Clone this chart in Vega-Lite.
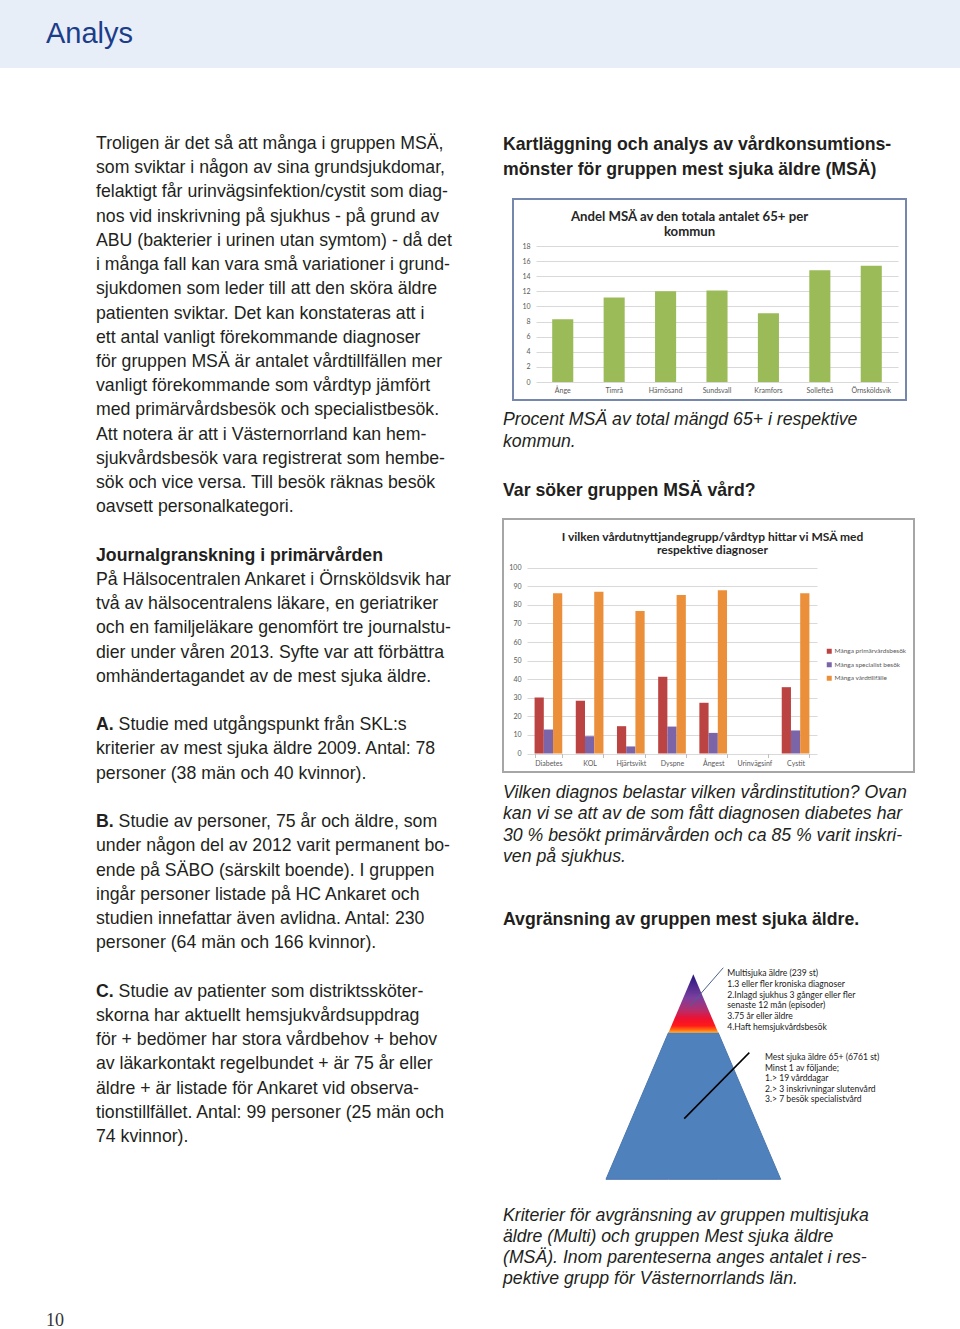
{
  "$schema": "https://vega.github.io/schema/vega-lite/v6.json",
  "background": "white",
  "padding": 0,
  "autosize": {"type": "pad"},
  "config": {"view": {"stroke": null}},
  "spacing": 0,
  "resolve": {"scale": {"color": "independent"}, "legend": {"color": "independent"}},
  "vconcat": [
    {
      "spacing": 0,
      "hconcat": [
        {"width": 46, "height": 68, "view": {"fill": "#e8eef7", "stroke": null}, "data": {"values": [{}]}, "mark": {"type": "text"}, "encoding": {"text": {"value": ""}}},
        {"width": 914, "height": 68, "view": {"fill": "#e8eef7", "stroke": null},
         "data": {"values": [{"t": "Analys"}]},
         "mark": {"type": "text", "align": "left", "baseline": "middle", "font": "Liberation Sans", "fontSize": 29, "color": "#1b3d8a"},
         "encoding": {"x": {"value": 0}, "text": {"field": "t"}}}
      ]
    },
    {
      "spacing": 0,
      "resolve": {"scale": {"color": "independent"}, "legend": {"color": "independent"}},
      "hconcat": [
        {"width": 46, "height": 10, "data": {"values": [{}]}, "mark": {"type": "text"}, "encoding": {"text": {"value": ""}}},
        {"width": 50, "height": 1261,
         "data": {"values": [{"line": 48.6, "t": "10"}]},
         "mark": {"type": "text", "align": "left", "baseline": "middle", "font": "Liberation Serif", "fontSize": 18, "color": "#333333"},
         "encoding": {"x": {"value": 0}, "y": {"field": "line", "type": "quantitative", "scale": {"domain": [-3.0966, 48.968], "reverse": true, "nice": false, "zero": false}, "axis": null}, "text": {"field": "t"}}},
        {"width": 406, "height": 1261,
         "data": {"values": [
           {"line": 0, "s": "r", "t": "Troligen är det så att många i gruppen MSÄ,"},
           {"line": 1, "s": "r", "t": "som sviktar i någon av sina grundsjukdomar,"},
           {"line": 2, "s": "r", "t": "felaktigt får urinvägsinfektion/cystit som diag-"},
           {"line": 3, "s": "r", "t": "nos vid inskrivning på sjukhus - på grund av"},
           {"line": 4, "s": "r", "t": "ABU (bakterier i urinen utan symtom) - då det"},
           {"line": 5, "s": "r", "t": "i många fall kan vara små variationer i grund-"},
           {"line": 6, "s": "r", "t": "sjukdomen som leder till att den sköra äldre"},
           {"line": 7, "s": "r", "t": "patienten sviktar. Det kan konstateras att i"},
           {"line": 8, "s": "r", "t": "ett antal vanligt förekommande diagnoser"},
           {"line": 9, "s": "r", "t": "för gruppen MSÄ är antalet vårdtillfällen mer"},
           {"line": 10, "s": "r", "t": "vanligt förekommande som vårdtyp jämfört"},
           {"line": 11, "s": "r", "t": "med primärvårdsbesök och specialistbesök."},
           {"line": 12, "s": "r", "t": "Att notera är att i Västernorrland kan hem-"},
           {"line": 13, "s": "r", "t": "sjukvårdsbesök vara registrerat som hembe-"},
           {"line": 14, "s": "r", "t": "sök och vice versa. Till besök räknas besök"},
           {"line": 15, "s": "r", "t": "oavsett personalkategori."},
           {"line": 17, "s": "b", "t": "Journalgranskning i primärvården"},
           {"line": 18, "s": "r", "t": "På Hälsocentralen Ankaret i Örnsköldsvik har"},
           {"line": 19, "s": "r", "t": "två av hälsocentralens läkare, en geriatriker"},
           {"line": 20, "s": "r", "t": "och en familjeläkare genomfört tre journalstu-"},
           {"line": 21, "s": "r", "t": "dier under våren 2013. Syfte var att förbättra"},
           {"line": 22, "s": "r", "t": "omhändertagandet av de mest sjuka äldre."},
           {"line": 24, "s": "b", "t": "A."},
           {"line": 24, "s": "c", "t": "Studie med utgångspunkt från SKL:s"},
           {"line": 25, "s": "r", "t": "kriterier av mest sjuka äldre 2009. Antal: 78"},
           {"line": 26, "s": "r", "t": "personer (38 män och 40 kvinnor)."},
           {"line": 28, "s": "b", "t": "B."},
           {"line": 28, "s": "c", "t": "Studie av personer, 75 år och äldre, som"},
           {"line": 29, "s": "r", "t": "under någon del av 2012 varit permanent bo-"},
           {"line": 30, "s": "r", "t": "ende på SÄBO (särskilt boende). I gruppen"},
           {"line": 31, "s": "r", "t": "ingår personer listade på HC Ankaret och"},
           {"line": 32, "s": "r", "t": "studien innefattar även avlidna. Antal: 230"},
           {"line": 33, "s": "r", "t": "personer (64 män och 166 kvinnor)."},
           {"line": 35, "s": "b", "t": "C."},
           {"line": 35, "s": "c", "t": "Studie av patienter som distriktssköter-"},
           {"line": 36, "s": "r", "t": "skorna har aktuellt hemsjukvårdsuppdrag"},
           {"line": 37, "s": "r", "t": "för + bedömer har stora vårdbehov + behov"},
           {"line": 38, "s": "r", "t": "av läkarkontakt regelbundet + är 75 år eller"},
           {"line": 39, "s": "r", "t": "äldre + är listade för Ankaret vid observa-"},
           {"line": 40, "s": "r", "t": "tionstillfället. Antal: 99 personer (25 män och"},
           {"line": 41, "s": "r", "t": "74 kvinnor)."}
         ]},
         "encoding": {
           "x": {"value": 0},
           "y": {"field": "line", "type": "quantitative", "scale": {"domain": [-3.0966, 48.968], "reverse": true, "nice": false, "zero": false}, "axis": null},
           "text": {"field": "t"}
         },
         "layer": [
           {"transform": [{"filter": "datum.s === 'r'"}], "mark": {"type": "text", "align": "left", "baseline": "middle", "font": "Liberation Sans", "fontSize": 17.7, "color": "#231f20"}},
           {"transform": [{"filter": "datum.s === 'b'"}], "mark": {"type": "text", "align": "left", "baseline": "middle", "font": "Liberation Sans", "fontSize": 17.7, "fontWeight": "bold", "color": "#231f20"}},
           {"transform": [{"filter": "datum.s === 'c'"}], "mark": {"type": "text", "align": "left", "baseline": "middle", "dx": 22.6, "font": "Liberation Sans", "fontSize": 17.7, "color": "#231f20"}}
         ]
        },
        {
          "spacing": 0,
          "resolve": {"scale": {"color": "independent"}, "legend": {"color": "independent"}},
          "vconcat": [
            {"width": 457, "height": 129,
             "data": {"values": [
               {"line": 0, "t": "Kartläggning och analys av vårdkonsumtions-"},
               {"line": 1, "t": "mönster för gruppen mest sjuka äldre (MSÄ)"}
             ]},
             "mark": {"type": "text", "align": "left", "baseline": "middle", "font": "Liberation Sans", "fontSize": 17.7, "fontWeight": "bold", "color": "#231f20"},
             "encoding": {"x": {"value": 0}, "y": {"field": "line", "type": "quantitative", "scale": {"domain": [-3.04, 2.12], "reverse": true, "nice": false, "zero": false}, "axis": null}, "text": {"field": "t"}}},
            {
              "spacing": 0,
              "hconcat": [
                {"width": 9, "height": 201, "data": {"values": [{}]}, "mark": {"type": "text"}, "encoding": {"text": {"value": ""}}},
                {"width": 393, "height": 201,
                 "view": {"stroke": "#7587ad", "strokeWidth": 2, "fill": "white"},
                 "title": {"text": ["Andel MSÄ av den totala antalet 65+ per", "kommun"], "anchor": "middle", "dx": -20, "offset": -40, "font": "Lato", "fontSize": 13.2, "fontWeight": "bold", "color": "#262626", "lineHeight": 15},
                 "data": {"values": [
                   {"kommun": "Ånge", "andel": 8.3},
                   {"kommun": "Timrå", "andel": 11.2},
                   {"kommun": "Härnösand", "andel": 12.0},
                   {"kommun": "Sundsvall", "andel": 12.1},
                   {"kommun": "Kramfors", "andel": 9.1},
                   {"kommun": "Sollefteå", "andel": 14.8},
                   {"kommun": "Örnsköldsvik", "andel": 15.4}
                 ]},
                 "mark": {"type": "bar", "color": "#9bbb59"},
                 "encoding": {
                   "x": {"field": "kommun", "type": "nominal", "sort": null,
                         "scale": {"range": [23, 385], "paddingInner": 0.59, "paddingOuter": 0.315},
                         "axis": {"title": null, "orient": "bottom", "offset": -18, "domain": false, "ticks": false, "labelAngle": 0, "labelFont": "Lato", "labelFontSize": 7, "labelColor": "#595959", "labelPadding": 4}},
                   "y": {"field": "andel", "type": "quantitative",
                         "scale": {"domain": [0, 18], "range": [183, 47], "nice": false},
                         "axis": {"title": null, "values": [0, 2, 4, 6, 8, 10, 12, 14, 16, 18], "offset": -23, "domain": false, "ticks": false, "grid": true, "gridColor": "#d9d9d9", "gridWidth": 1, "labelFont": "Lato", "labelFontSize": 7, "labelColor": "#595959", "labelPadding": 6}}
                 }}
              ]
            },
            {"width": 457, "height": 63,
             "data": {"values": [
               {"line": 0, "t": "Procent MSÄ av total mängd 65+ i respektive"},
               {"line": 1, "t": "kommun."}
             ]},
             "mark": {"type": "text", "align": "left", "baseline": "middle", "font": "Liberation Sans", "fontSize": 17.7, "fontStyle": "italic", "color": "#231f20"},
             "encoding": {"x": {"value": 0}, "y": {"field": "line", "type": "quantitative", "scale": {"domain": [-0.864, 2.0], "reverse": true, "nice": false, "zero": false}, "axis": null}, "text": {"field": "t"}}},
            {"width": 457, "height": 54,
             "data": {"values": [{"t": "Var söker gruppen MSÄ vård?"}]},
             "mark": {"type": "text", "align": "left", "baseline": "middle", "font": "Liberation Sans", "fontSize": 17.7, "fontWeight": "bold", "color": "#231f20"},
             "encoding": {"x": {"value": 0}, "text": {"field": "t"}}},
            {"width": 411, "height": 253,
             "view": {"stroke": "#a6a6a6", "strokeWidth": 2, "fill": "white"},
             "title": {"text": ["I vilken vårdutnyttjandegrupp/vårdtyp hittar vi MSÄ med", "respektive diagnoser"], "anchor": "middle", "dx": 4, "offset": -38, "font": "Lato", "fontSize": 12, "fontWeight": "bold", "color": "#262626", "lineHeight": 13.3},
             "data": {"values": [
               {"diagnos": "Diabetes", "serie": "Många primärvårdsbesök", "procent": 30.2},
               {"diagnos": "Diabetes", "serie": "Många specialist besök", "procent": 12.9},
               {"diagnos": "Diabetes", "serie": "Många vårdtillfälle", "procent": 86.2},
               {"diagnos": "KOL", "serie": "Många primärvårdsbesök", "procent": 28.4},
               {"diagnos": "KOL", "serie": "Många specialist besök", "procent": 9.3},
               {"diagnos": "KOL", "serie": "Många vårdtillfälle", "procent": 87.1},
               {"diagnos": "Hjärtsvikt", "serie": "Många primärvårdsbesök", "procent": 14.7},
               {"diagnos": "Hjärtsvikt", "serie": "Många specialist besök", "procent": 3.8},
               {"diagnos": "Hjärtsvikt", "serie": "Många vårdtillfälle", "procent": 76.7},
               {"diagnos": "Dyspne", "serie": "Många primärvårdsbesök", "procent": 41.3},
               {"diagnos": "Dyspne", "serie": "Många specialist besök", "procent": 14.5},
               {"diagnos": "Dyspne", "serie": "Många vårdtillfälle", "procent": 85.3},
               {"diagnos": "Ångest", "serie": "Många primärvårdsbesök", "procent": 27.3},
               {"diagnos": "Ångest", "serie": "Många specialist besök", "procent": 11.1},
               {"diagnos": "Ångest", "serie": "Många vårdtillfälle", "procent": 87.8},
               {"diagnos": "Urinvägsinf", "serie": "Många primärvårdsbesök", "procent": 0},
               {"diagnos": "Urinvägsinf", "serie": "Många specialist besök", "procent": 0},
               {"diagnos": "Urinvägsinf", "serie": "Många vårdtillfälle", "procent": 0},
               {"diagnos": "Cystit", "serie": "Många primärvårdsbesök", "procent": 35.7},
               {"diagnos": "Cystit", "serie": "Många specialist besök", "procent": 12.4},
               {"diagnos": "Cystit", "serie": "Många vårdtillfälle", "procent": 86.2}
             ]},
             "mark": {"type": "bar"},
             "encoding": {
               "x": {"field": "diagnos", "type": "nominal", "sort": null,
                     "scale": {"range": [24, 314], "paddingInner": 0.328, "paddingOuter": 0.184},
                     "axis": {"title": null, "orient": "bottom", "offset": -18.5, "domain": false, "ticks": true, "tickBand": "extent", "tickSize": 4, "tickColor": "#bfbfbf", "labelAngle": 0, "labelFont": "Lato", "labelFontSize": 7, "labelColor": "#595959", "labelPadding": 2}},
               "xOffset": {"field": "serie", "type": "nominal", "sort": null, "scale": {"paddingInner": 0, "paddingOuter": 0}},
               "y": {"field": "procent", "type": "quantitative",
                     "scale": {"domain": [0, 100], "range": [234.5, 48.7], "nice": false},
                     "axis": {"title": null, "values": [0, 10, 20, 30, 40, 50, 60, 70, 80, 90, 100], "offset": -24, "domain": false, "ticks": false, "grid": true, "gridColor": "#d9d9d9", "gridWidth": 1, "labelFont": "Lato", "labelFontSize": 7, "labelColor": "#595959", "labelPadding": 6}},
               "color": {"field": "serie", "type": "nominal", "sort": null,
                         "scale": {"domain": ["Många primärvårdsbesök", "Många specialist besök", "Många vårdtillfälle"], "range": ["#bb4442", "#7b64a8", "#ec8f3a"]},
                         "legend": {"title": null, "orient": "none", "legendX": 323, "legendY": 129, "symbolType": "square", "symbolSize": 25, "symbolStrokeWidth": 0, "labelFont": "Lato", "labelFontSize": 6.5, "labelColor": "#595959", "labelOffset": 2, "rowPadding": 6.5}}
             }},
            {"width": 457, "height": 108,
             "data": {"values": [
               {"line": 0, "t": "Vilken diagnos belastar vilken vårdinstitution? Ovan"},
               {"line": 1, "t": "kan vi se att av de som fått diagnosen diabetes har"},
               {"line": 2, "t": "30 % besökt primärvården och ca 85 % varit inskri-"},
               {"line": 3, "t": "ven på sjukhus."}
             ]},
             "mark": {"type": "text", "align": "left", "baseline": "middle", "font": "Liberation Sans", "fontSize": 17.7, "fontStyle": "italic", "color": "#231f20"},
             "encoding": {"x": {"value": 0}, "y": {"field": "line", "type": "quantitative", "scale": {"domain": [-0.9375, 4.126], "reverse": true, "nice": false, "zero": false}, "axis": null}, "text": {"field": "t"}}},
            {"width": 457, "height": 78,
             "data": {"values": [{"t": "Avgränsning av gruppen mest sjuka äldre."}]},
             "mark": {"type": "text", "align": "left", "baseline": "middle", "font": "Liberation Sans", "fontSize": 17.7, "fontWeight": "bold", "color": "#231f20"},
             "encoding": {"x": {"value": 0}, "text": {"field": "t"}}},
            {"width": 457, "height": 237,
             "layer": [
               {"data": {"values": [
                  {"x": -1, "top": 0, "bot": 0},
                  {"x": -0.285, "top": 0.715, "bot": 0},
                  {"x": 0.285, "top": 0.715, "bot": 0},
                  {"x": 1, "top": 0, "bot": 0}
                ]},
                "mark": {"type": "area", "orient": "vertical", "color": "#4f81bd", "stroke": "#4a76ad", "strokeWidth": 1},
                "encoding": {
                  "x": {"field": "x", "type": "quantitative", "scale": {"domain": [-2.179, 3.053], "nice": false, "zero": false}, "axis": null},
                  "y": {"field": "top", "type": "quantitative", "scale": {"domain": [-0.0815, 1.0746], "nice": false, "zero": false}, "axis": null},
                  "y2": {"field": "bot"}
                }},
               {"data": {"values": [
                  {"x": -0.285, "top": 0.715, "bot": 0.715},
                  {"x": 0, "top": 1, "bot": 0.715},
                  {"x": 0.285, "top": 0.715, "bot": 0.715}
                ]},
                "mark": {"type": "area", "orient": "vertical",
                         "color": {"gradient": "linear", "x1": 0, "y1": 0, "x2": 0, "y2": 1,
                                   "stops": [
                                     {"offset": 0, "color": "#23157f"},
                                     {"offset": 0.4, "color": "#7b3f9e"},
                                     {"offset": 0.6, "color": "#b03070"},
                                     {"offset": 0.76, "color": "#ee1030"},
                                     {"offset": 0.88, "color": "#ff1a1a"},
                                     {"offset": 0.95, "color": "#ff6a10"},
                                     {"offset": 1, "color": "#ffb030"}
                                   ]}},
                "encoding": {
                  "x": {"field": "x", "type": "quantitative", "scale": {"domain": [-2.179, 3.053], "nice": false, "zero": false}, "axis": null},
                  "y": {"field": "top", "type": "quantitative", "scale": {"domain": [-0.0815, 1.0746], "nice": false, "zero": false}, "axis": null},
                  "y2": {"field": "bot"}
                }},
               {"data": {"values": [{"x": -0.038, "y": 0.845, "x2": 0.343, "y2": 1.032}]},
                "mark": {"type": "rule", "color": "#4a628e", "strokeWidth": 1},
                "encoding": {
                  "x": {"field": "x", "type": "quantitative", "scale": {"domain": [-2.179, 3.053], "nice": false, "zero": false}, "axis": null},
                  "y": {"field": "y", "type": "quantitative", "scale": {"domain": [-0.0815, 1.0746], "nice": false, "zero": false}, "axis": null},
                  "x2": {"field": "x2"}, "y2": {"field": "y2"}
                }},
               {"data": {"values": [{"x": -0.104, "y": 0.296, "x2": 0.641, "y2": 0.618}]},
                "mark": {"type": "rule", "color": "#000000", "strokeWidth": 1.5},
                "encoding": {
                  "x": {"field": "x", "type": "quantitative", "scale": {"domain": [-2.179, 3.053], "nice": false, "zero": false}, "axis": null},
                  "y": {"field": "y", "type": "quantitative", "scale": {"domain": [-0.0815, 1.0746], "nice": false, "zero": false}, "axis": null},
                  "x2": {"field": "x2"}, "y2": {"field": "y2"}
                }},
               {"data": {"values": [
                  {"x": 0.389, "y": 1.008, "t": "Multisjuka äldre (239 st)"},
                  {"x": 0.389, "y": 0.952, "t": "1.3 eller fler kroniska diagnoser"},
                  {"x": 0.389, "y": 0.899, "t": "2.Inlagd sjukhus 3 gånger eller fler"},
                  {"x": 0.389, "y": 0.850, "t": "senaste 12 mån (episoder)"},
                  {"x": 0.389, "y": 0.797, "t": "3.75 år eller äldre"},
                  {"x": 0.389, "y": 0.743, "t": "4.Haft hemsjukvårdsbesök"},
                  {"x": 0.82, "y": 0.598, "t": "Mest sjuka äldre 65+ (6761 st)"},
                  {"x": 0.82, "y": 0.543, "t": "Minst 1 av följande;"},
                  {"x": 0.82, "y": 0.493, "t": "1.> 19 vårddagar"},
                  {"x": 0.82, "y": 0.442, "t": "2.> 3 inskrivningar slutenvård"},
                  {"x": 0.82, "y": 0.393, "t": "3.> 7 besök specialistvård"}
                ]},
                "mark": {"type": "text", "align": "left", "baseline": "middle", "font": "Lato", "fontSize": 8.6, "color": "#1a1a1a"},
                "encoding": {
                  "x": {"field": "x", "type": "quantitative", "scale": {"domain": [-2.179, 3.053], "nice": false, "zero": false}, "axis": null},
                  "y": {"field": "y", "type": "quantitative", "scale": {"domain": [-0.0815, 1.0746], "nice": false, "zero": false}, "axis": null},
                  "text": {"field": "t"}
                }}
             ]},
            {"width": 457, "height": 105,
             "data": {"values": [
               {"line": 0, "t": "Kriterier för avgränsning av gruppen multisjuka"},
               {"line": 1, "t": "äldre (Multi) och gruppen Mest sjuka äldre"},
               {"line": 2, "t": "(MSÄ). Inom parenteserna anges antalet i res-"},
               {"line": 3, "t": "pektive grupp för Västernorrlands län."}
             ]},
             "mark": {"type": "text", "align": "left", "baseline": "middle", "font": "Liberation Sans", "fontSize": 17.7, "fontStyle": "italic", "color": "#231f20"},
             "encoding": {"x": {"value": 0}, "y": {"field": "line", "type": "quantitative", "scale": {"domain": [-0.952, 4.048], "reverse": true, "nice": false, "zero": false}, "axis": null}, "text": {"field": "t"}}}
          ]
        }
      ]
    }
  ]
}
